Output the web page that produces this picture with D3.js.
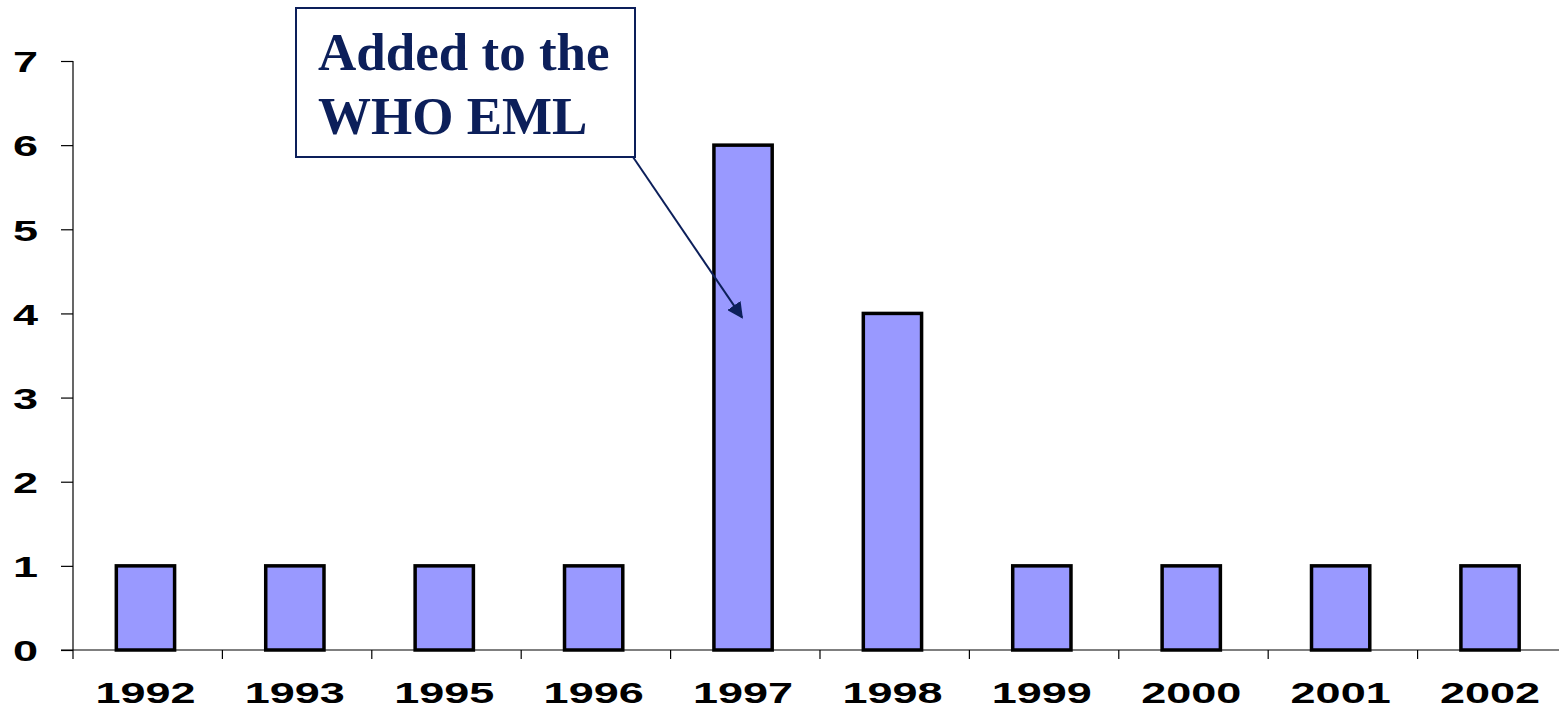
<!DOCTYPE html>
<html>
<head>
<meta charset="utf-8">
<script src="https://cdn.jsdelivr.net/npm/d3@7"></script>
<style>
  body { margin: 0; background: #fff; }
  .tick text { font-family: Arial, "Liberation Sans", sans-serif; font-weight: bold; font-size: 30px; fill: #000; }
</style>
</head>
<body>
<svg id="chart"></svg>
<script>
// data
const years = ["1992", "1993", "1995", "1996", "1997", "1998", "1999", "2000", "2001", "2002"];
const counts = [1, 1, 1, 1, 6, 4, 1, 1, 1, 1];
const yTicks = [0, 1, 2, 3, 4, 5, 6, 7];
const calloutLines = ["Added to the", "WHO EML"];

const width = 1559, height = 709;
const margin = {top: 61, right: -3.5, bottom: 59, left: 73};
const innerW = width - margin.left - margin.right;
const innerH = height - margin.top - margin.bottom;

const svg = d3.select("#chart").attr("width", width).attr("height", height);
const g = svg.append("g").attr("transform", `translate(${margin.left},${margin.top})`);

const x = d3.scaleBand().domain(years).range([0, innerW]).paddingInner(0.61).paddingOuter(0.29);
const y = d3.scaleLinear().domain([0, 7]).range([innerH, 0]);

// labels in the original are stretched wide
const stretch = 1.5;

// y axis
const yAxis = g.append("g")
  .call(d3.axisLeft(y).tickValues(yTicks).tickSize(12).tickFormat(d3.format("d")));
yAxis.select(".domain").attr("stroke", "#000").attr("stroke-width", 1.2).attr("d", `M0,${innerH}V0`);
yAxis.selectAll(".tick line").attr("stroke", "#000").attr("stroke-width", 1.2);
yAxis.selectAll(".tick text")
  .attr("x", 0).attr("dy", "0.36em")
  .attr("transform", `translate(-35,0) scale(${stretch},1)`);

// x axis (ticks between categories)
const xAxis = g.append("g").attr("transform", `translate(0,${innerH})`);
xAxis.append("line").attr("x1", -12).attr("x2", innerW + 10).attr("stroke", "#000").attr("stroke-width", 1.2);
const step = x.step();
xAxis.selectAll(".sep").data(years).enter().append("line")
  .attr("x1", (d, i) => i * step).attr("x2", (d, i) => i * step)
  .attr("y1", 0).attr("y2", 9).attr("stroke", "#000").attr("stroke-width", 1.2);
xAxis.selectAll(".tick").data(years).enter().append("g").attr("class", "tick")
  .attr("transform", d => `translate(${x(d) + x.bandwidth() / 2},53)`)
  .append("text")
  .attr("text-anchor", "middle")
  .attr("transform", `scale(${stretch},1)`)
  .text(d => d);

// bars
g.selectAll(".bar").data(years).enter().append("rect")
  .attr("class", "bar")
  .attr("x", d => x(d))
  .attr("y", (d, i) => y(counts[i]))
  .attr("width", x.bandwidth())
  .attr("height", (d, i) => innerH - y(counts[i]))
  .attr("fill", "#9999ff")
  .attr("stroke", "#000")
  .attr("stroke-width", 3.5);

// callout
const navy = "#0c1f5a";
svg.append("defs").append("marker")
  .attr("id", "arrow").attr("viewBox", "0 0 10 10").attr("refX", 9).attr("refY", 5)
  .attr("markerWidth", 8).attr("markerHeight", 8).attr("orient", "auto")
  .append("path").attr("d", "M0,0L10,5L0,10z").attr("fill", navy);

const box = {x: 296, y: 8, w: 339, h: 149};
svg.append("rect")
  .attr("x", box.x).attr("y", box.y).attr("width", box.w).attr("height", box.h)
  .attr("fill", "#fff").attr("stroke", navy).attr("stroke-width", 2);
svg.append("line")
  .attr("x1", box.x + box.w - 2).attr("y1", box.y + box.h)
  .attr("x2", margin.left + x("1997") + x.bandwidth() / 2 - 1)
  .attr("y2", margin.top + y(4) + 4)
  .attr("stroke", navy).attr("stroke-width", 2)
  .attr("marker-end", "url(#arrow)");
svg.selectAll(".callout").data(calloutLines).enter().append("text")
  .attr("x", 318).attr("y", (d, i) => 70 + i * 64)
  .attr("font-family", "'Liberation Serif', 'Times New Roman', serif")
  .attr("font-weight", "bold").attr("font-size", 53)
  .attr("fill", navy)
  .text(d => d);
</script>
</body>
</html>
